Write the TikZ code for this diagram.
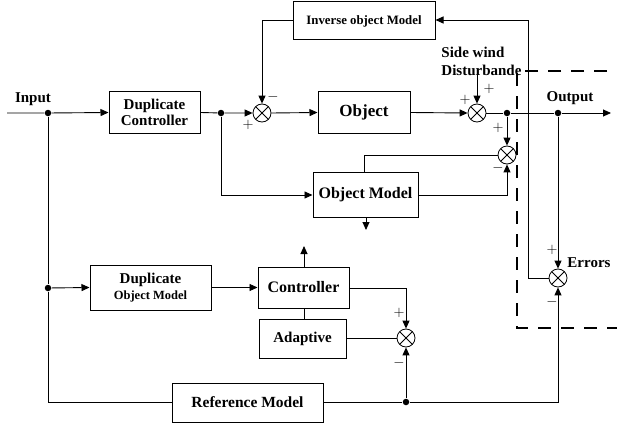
\documentclass[tikz,border=0pt]{standalone}
\usepackage{fontspec}
\setmainfont{Liberation Serif}
\usetikzlibrary{arrows.meta}
\begin{document}
\begin{tikzpicture}[x=1pt,y=-1pt,
  line width=0.9pt,
  >={Triangle[length=8pt,width=7pt]},
  blk/.style={draw,line width=1pt,inner sep=0pt,align=center,font=\bfseries\fontsize{15}{16}\selectfont},
  sumnode/.style={draw,circle,minimum size=18pt,inner sep=0pt,line width=0.8pt,
    path picture={\draw[line width=0.8pt] (path picture bounding box.north west) -- (path picture bounding box.south east)
      (path picture bounding box.north east) -- (path picture bounding box.south west);}},
  dotn/.style={circle,fill,inner sep=0pt,minimum size=6.5pt},
  sgn/.style={font=\fontsize{15}{15}\selectfont,inner sep=0pt},
  lbl/.style={font=\bfseries\fontsize{15}{18}\selectfont,inner sep=0pt}
]
\useasboundingbox (0,0) rectangle (617,425);
% blocks
\node[blk,minimum width=91pt,minimum height=41pt] (dupc) at (154.5,112.5) {Duplicate\\Controller};
\node[blk,minimum width=142pt,minimum height=38pt,font=\bfseries\fontsize{12.8}{14}\selectfont] (inv) at (364,21) {Inverse object Model};
\node[blk,minimum width=92pt,minimum height=41pt,font=\bfseries\fontsize{17}{18}\selectfont] (obj) at (364,112.5) {Object};
\node[blk,minimum width=105pt,minimum height=45pt,font=\bfseries\fontsize{16}{18}\selectfont] (objm) at (365.5,194.5) {Object Model};
\node[blk,minimum width=91pt,minimum height=41pt,font=\bfseries\fontsize{16}{18}\selectfont] (ctrl) at (303.5,287.5) {Controller};
\node[blk,minimum width=87pt,minimum height=39pt] (adapt) at (302.5,338.5) {Adaptive};
\node[blk,minimum width=151pt,minimum height=39pt,font=\bfseries\fontsize{15.5}{17}\selectfont] (ref) at (247.5,402.5) {Reference Model};
\node[blk,minimum width=121pt,minimum height=45pt] (dupo) at (150.5,287.5) {Duplicate\\{\fontsize{12.5}{14}\selectfont Object Model}};
% summing junctions
\node[sumnode] (s1) at (262,113) {};
\node[sumnode] (s2) at (477,113) {};
\node[sumnode] (s3) at (507,155) {};
\node[sumnode] (s4) at (406,338) {};
\node[sumnode] (s5) at (558,278) {};
% dots
\node[dotn] (dIn) at (48,113) {};
\node[dotn] (dC) at (221,113) {};
\node[dotn] (dA) at (507,113) {};
\node[dotn] (dOut) at (558,113) {};
\node[dotn] (dL) at (48,288) {};
\node[dotn] (dR) at (406,402) {};
% coordinates
\coordinate (in0) at (7,113);
\coordinate (oend) at (611,113);
\coordinate (cLL) at (48,402);
\coordinate (cObjIn) at (221,195);
\coordinate (cInvL) at (262,20);
\coordinate (cInvR) at (528,20);
\coordinate (cInvB) at (528,278);
\coordinate (cS3L) at (364,155);
\coordinate (cOmR) at (507,195);
\coordinate (cCtR) at (406,288);
\coordinate (cRefR) at (558,402);
\coordinate (cOmD) at (366,230);
\coordinate (cCtU) at (304,246);
\coordinate (cDist) at (477,72);
% labels
\node[lbl] (tin) at (33,99) {Input};
\node[lbl] (tout) at (570,98) {Output};
\node[lbl,anchor=north west,align=left] (tsw) at (441,47) {Side wind\\Disturbande};
\node[lbl,anchor=west] (terr) at (567,263) {Errors};
% signs
\node[sgn] at (273,97) {$-$};
\node[sgn] at (248,125) {$+$};
\node[sgn] at (465,100) {$+$};
\node[sgn] at (489,89) {$+$};
\node[sgn] at (498,128) {$+$};
\node[sgn] at (498,168) {$-$};
\node[sgn] at (399,313) {$+$};
\node[sgn] at (399,363) {$-$};
\node[sgn] at (552,250) {$+$};
\node[sgn] at (552,302) {$-$};
% connectors
\draw[->] (in0) -- (dIn) -- (dupc.west);
\draw[->] (dupc.east) -- (dC) -- (s1.west);
\draw[->] (s1.east) -- (obj.west);
\draw[->] (obj.east) -- (s2.west);
\draw[->] (s2.east) -- (dA) -- (dOut) -- (oend);
\draw[->] (dA) -- (s3.north);
\draw (s3.west) -- (cS3L) -- (cS3L |- objm.north);
\draw[->] (objm.east |- cOmR) -- (cOmR) -- (s3.south);
\draw[->] (dC) -- (cObjIn) -- (cObjIn -| objm.west);
\draw[->] (objm.south -| cOmD) -- (cOmD);
\draw[->] (cInvB) -- (cInvR) -- (inv.east |- cInvR);
\draw (cInvB) -- (s5.west);
\draw[->] (inv.west |- cInvL) -- (cInvL) -- (s1.north);
\draw[->] (cDist) -- (s2.north);
\draw (dIn) -- (dL) -- (cLL) -- (ref.west |- cLL);
\draw[->] (dL) -- (dupo.west);
\draw[->] (dupo.east) -- (ctrl.west);
\draw[->] (ctrl.north -| cCtU) -- (cCtU);
\draw (ctrl.south -| cCtU) -- (adapt.north -| cCtU);
\draw[->] (ctrl.east |- cCtR) -- (cCtR) -- (s4.north);
\draw (adapt.east |- s4) -- (s4.west);
\draw[->] (ref.east |- dR) -- (dR) -- (cRefR) -- (s5.south);
\draw[->] (dR) -- (s4.south);
\draw[->] (dOut) -- (s5.north);
% dashed box
\draw[line width=2pt,dash pattern=on 13pt off 10pt] (630,71) -- (517,71) -- (517,328) -- (630,328);
\end{tikzpicture}
\end{document}
